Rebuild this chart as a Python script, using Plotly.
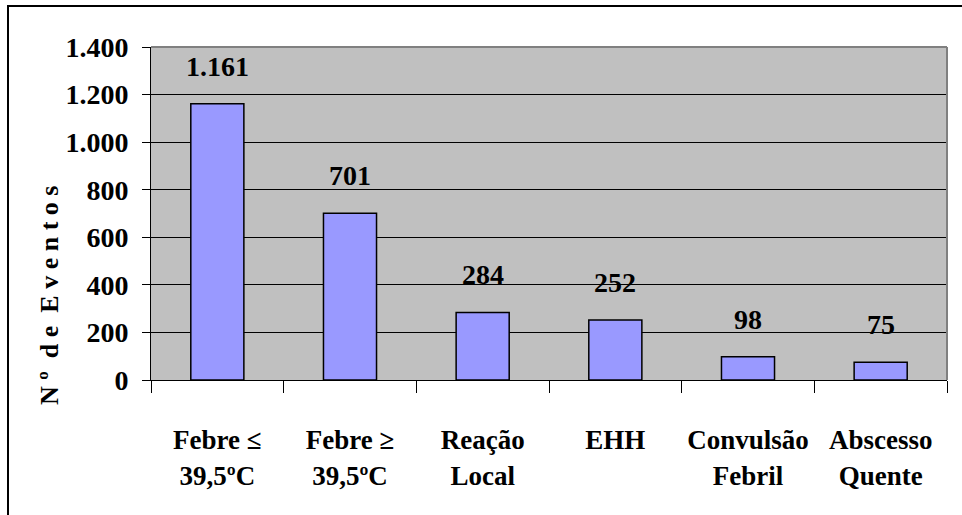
import plotly.graph_objects as go

# Eventos adversos notificados
categorias = [
    "Febre ≤<br>39,5ºC",
    "Febre ≥<br>39,5ºC",
    "Reação<br>Local",
    "EHH",
    "Convulsão<br>Febril",
    "Abscesso<br>Quente",
]
eventos = [1161, 701, 284, 252, 98, 75]
y_ticks = [0, 200, 400, 600, 800, 1000, 1200, 1400]

FONTE = "Liberation Serif"

W, H = 962, 515
L, R, T, B = 151, 15, 47, 135
pw, ph = W - L - R, H - T - B


def fmt(v):
    return f"{v:,}".replace(",", ".")


fig = go.Figure()
fig.add_trace(go.Bar(
    x=categorias,
    y=eventos,
    marker=dict(color="#9999FF", line=dict(color="black", width=1.5)),
    hoverinfo="x+y",
))

# rótulos de valor sobre as barras
for c, v in zip(categorias, eventos):
    fig.add_annotation(
        x=c, y=v, text=f"<b>{fmt(v)}</b>", showarrow=False,
        yanchor="bottom", yshift=20,
        font=dict(family=FONTE, size=28, color="black"),
    )

# título do eixo Y
fig.add_annotation(
    xref="paper", yref="paper",
    x=(49 - L) / pw, y=(H - B - 296) / ph,
    xanchor="center", yanchor="middle",
    text="<b>N º  d e  E v e n t o s</b>", textangle=-90, showarrow=False,
    font=dict(family=FONTE, size=26, color="black"),
)

# moldura externa
fig.add_shape(
    type="rect", xref="paper", yref="paper",
    x0=(8 - L) / pw, x1=(W + 10 - L) / pw,
    y0=(H - B - (H + 10)) / ph, y1=(H - B - 6) / ph,
    line=dict(color="black", width=2), fillcolor="rgba(0,0,0,0)",
    layer="above",
)
# bordas superior e direita da área de plotagem
fig.add_shape(type="line", xref="paper", yref="paper", x0=0, x1=1, y0=1, y1=1,
              line=dict(color="#808080", width=2), layer="above")
fig.add_shape(type="line", xref="paper", yref="paper", x0=1, x1=1, y0=0, y1=1,
              line=dict(color="#808080", width=2), layer="above")

fig.update_layout(
    width=W, height=H,
    margin=dict(l=L, r=R, t=T, b=B, pad=0),
    paper_bgcolor="white",
    plot_bgcolor="#C0C0C0",
    separators=",.",
    bargap=0.6,
    showlegend=False,
    font=dict(family=FONTE, color="black"),
)

fig.update_xaxes(
    type="category",
    tickson="boundaries",
    ticks="outside", ticklen=12, tickcolor="black", tickwidth=1,
    showline=True, linecolor="black", linewidth=1,
    showgrid=False,
    ticklabelstandoff=36,
    tickvals=categorias,
    ticktext=[f"<b>{c}</b>".replace("<br>", "</b><br><b>") for c in categorias],
    tickfont=dict(family=FONTE, size=27, color="black"),
)
fig.update_yaxes(
    range=[0, 1400],
    tickvals=y_ticks,
    ticktext=[f"<b>{fmt(t)}</b>" for t in y_ticks],
    ticks="outside", ticklen=8, tickcolor="black", tickwidth=1,
    showline=True, linecolor="black", linewidth=1,
    showgrid=True, gridcolor="black", gridwidth=1,
    zeroline=False,
    ticklabelstandoff=8,
    tickfont=dict(family=FONTE, size=28, color="black"),
)

fig.write_html("out.html")
